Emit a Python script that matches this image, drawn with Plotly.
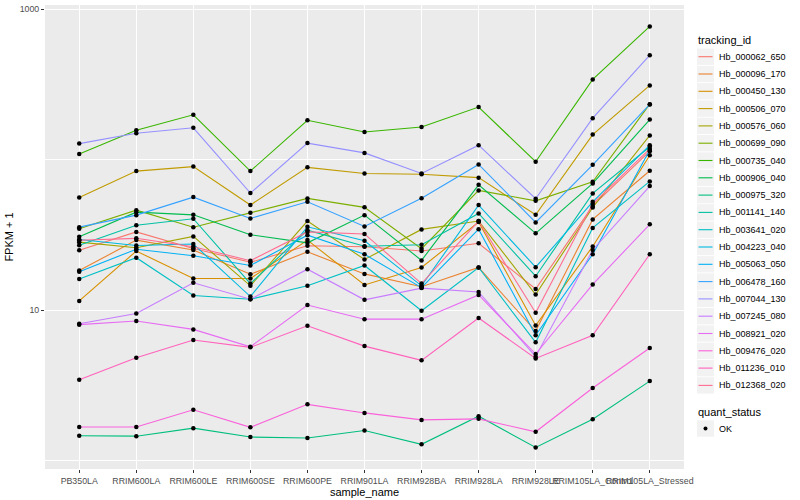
import plotly.graph_objects as go

samples = ["PB350LA", "RRIM600LA", "RRIM600LE", "RRIM600SE", "RRIM600PE", "RRIM901LA",
           "RRIM928BA", "RRIM928LA", "RRIM928LE", "RRIM105LA_Control", "RRIM105LA_Stressed"]

tracking_ids = ["Hb_000062_650", "Hb_000096_170", "Hb_000450_130", "Hb_000506_070",
                "Hb_000576_060", "Hb_000699_090", "Hb_000735_040", "Hb_000906_040",
                "Hb_000975_320", "Hb_001141_140", "Hb_003641_020", "Hb_004223_040",
                "Hb_005063_050", "Hb_006478_160", "Hb_007044_130", "Hb_007245_080",
                "Hb_008921_020", "Hb_009476_020", "Hb_011236_010", "Hb_012368_020"]

colors = ["#F8766D", "#EA8331", "#D89000", "#C09B00", "#A3A500", "#7CAE00", "#39B600",
          "#00BB4E", "#00BF7D", "#00C1A3", "#00BFC4", "#00BAE0", "#00B0F6", "#35A2FF",
          "#9590FF", "#C77CFF", "#E76BF3", "#FA62DB", "#FF62BC", "#FF6C91"]

quant_status = ["OK"]

# FPKM + 1 values per tracking id (in sample order)
hb_000062_650 = [25.0, 33.1, 25.7, 20.8, 26.8, 26.4, 24.7, 27.8, 13.8, 49.3, 114]
hb_000096_170 = [18.3, 29.2, 25.1, 17.3, 24.4, 17.4, 14.3, 19.2, 7.25, 40.1, 84.4]
hb_000450_130 = [11.5, 24.7, 16.2, 16.2, 29.2, 14.7, 19.2, 38.5, 7.9, 26.5, 107]
hb_000506_070 = [56, 84, 90, 50, 89, 81, 80, 76, 43, 147, 312]
hb_000576_060 = [28.3, 26.0, 30.9, 14.5, 39.1, 21.7, 34.4, 39.1, 12.7, 48.1, 145]
hb_000699_090 = [34.7, 46.2, 35.6, 44.4, 55.3, 48.2, 25.6, 62.5, 53.3, 71.3, 234]
hb_000735_040 = [109, 157, 199, 84, 183, 153, 165, 224, 97, 342, 770]
hb_000906_040 = [30.7, 44.8, 43.0, 31.7, 28.0, 42.8, 21.4, 68.1, 32.4, 69.6, 185]
hb_000975_320 = [1.46, 1.45, 1.64, 1.43, 1.41, 1.58, 1.28, 1.97, 1.22, 1.88, 3.37]
hb_001141_140 = [27.0, 36.7, 40.5, 15.0, 34.0, 26.6, 27.2, 43.9, 16.8, 59.7, 122]
hb_003641_020 = [16.1, 22.3, 12.5, 11.8, 14.5, 19.8, 9.9, 19.2, 6.1, 35.2, 71.7]
hb_004223_040 = [29.5, 26.9, 27.5, 12.3, 35.8, 28.9, 14.5, 49.9, 19.3, 52.5, 125]
hb_005063_050 = [18.0, 25.4, 23.0, 19.8, 31.5, 23.5, 14.1, 34.5, 6.8, 23.5, 116]
hb_006478_160 = [35.6, 42.8, 56.4, 40.7, 52.5, 36.0, 55.5, 93.0, 38.3, 92.5, 233]
hb_007044_130 = [128, 150, 163, 60, 129, 111, 81, 125, 55, 189, 496]
hb_007245_080 = [8.1, 9.5, 15.2, 11.8, 18.7, 11.7, 14.0, 13.2, 4.9, 25.1, 66.8]
hb_008921_020 = [8.0, 8.45, 7.44, 5.7, 10.8, 8.7, 8.7, 12.6, 5.1, 14.8, 37.2]
hb_009476_020 = [1.67, 1.67, 2.17, 1.66, 2.36, 2.07, 1.86, 1.89, 1.55, 3.03, 5.59]
hb_011236_010 = [3.44, 4.82, 6.32, 5.65, 7.86, 5.76, 4.63, 8.85, 4.77, 6.79, 23.5]
hb_012368_020 = [29.1, 30.0, 26.4, 21.3, 33.1, 32.1, 15.0, 39.1, 9.6, 50.9, 118]

series = [hb_000062_650, hb_000096_170, hb_000450_130, hb_000506_070, hb_000576_060,
          hb_000699_090, hb_000735_040, hb_000906_040, hb_000975_320, hb_001141_140,
          hb_003641_020, hb_004223_040, hb_005063_050, hb_006478_160, hb_007044_130,
          hb_007245_080, hb_008921_020, hb_009476_020, hb_011236_010, hb_012368_020]

FONT = "Liberation Sans, Arial, sans-serif"
W, H = 800, 500
ML, MR, MT, MB = 45, 116, 5, 31
PW, PH = W - ML - MR, H - MT - MB


def px(x):  # page pixel -> paper x
    return (x - ML) / PW


def py(y):  # page pixel -> paper y
    return (H - MB - y) / PH


fig = go.Figure()
for name, col, vals in zip(tracking_ids, colors, series):
    fig.add_trace(go.Scatter(x=samples, y=vals, mode="lines", name=name,
                             line=dict(color=col, width=1.1), showlegend=False))

all_x, all_y = [], []
for vals in series:
    all_x += samples
    all_y += vals
fig.add_trace(go.Scatter(x=all_x, y=all_y, mode="markers", name=quant_status[0],
                         marker=dict(color="black", size=4.5), showlegend=False))

# ggplot-style legend (guides) to the right of the panel
shapes, annotations = [], []
annotations.append(dict(text="tracking_id", xref="paper", yref="paper", x=px(696), y=py(40.5),
                        xanchor="left", yanchor="middle", showarrow=False,
                        font=dict(size=11, color="black")))
for i, (name, col) in enumerate(zip(tracking_ids, colors)):
    cy = 56.7 + 17.3 * i
    shapes.append(dict(type="rect", xref="paper", yref="paper", x0=px(697), x1=px(714),
                       y0=py(cy - 8.2), y1=py(cy + 8.2), fillcolor="#F2F2F2",
                       line=dict(width=0), layer="above"))
    shapes.append(dict(type="line", xref="paper", yref="paper", x0=px(698.5), x1=px(712.5),
                       y0=py(cy), y1=py(cy), line=dict(color=col, width=1.1), layer="above"))
    annotations.append(dict(text=name, xref="paper", yref="paper", x=px(717), y=py(cy),
                            xanchor="left", yanchor="middle", showarrow=False,
                            font=dict(size=9, color="black")))

annotations.append(dict(text="quant_status", xref="paper", yref="paper", x=px(696), y=py(411.5),
                        xanchor="left", yanchor="middle", showarrow=False,
                        font=dict(size=11, color="black")))
ok_y = 428.5
shapes.append(dict(type="rect", xref="paper", yref="paper", x0=px(697), x1=px(714),
                   y0=py(ok_y - 8.2), y1=py(ok_y + 8.2), fillcolor="#F2F2F2",
                   line=dict(width=0), layer="above"))
shapes.append(dict(type="circle", xref="paper", yref="paper", x0=px(703.5), x1=px(707.5),
                   y0=py(ok_y - 2), y1=py(ok_y + 2), fillcolor="black",
                   line=dict(width=0), layer="above"))
annotations.append(dict(text=quant_status[0], xref="paper", yref="paper", x=px(717), y=py(ok_y),
                        xanchor="left", yanchor="middle", showarrow=False,
                        font=dict(size=9, color="black")))

fig.update_layout(
    width=W, height=H,
    margin=dict(l=ML, r=MR, t=MT, b=MB),
    paper_bgcolor="white", plot_bgcolor="#EBEBEB",
    font=dict(family=FONT, size=10, color="black"),
    showlegend=False,
    shapes=shapes, annotations=annotations,
)

fig.update_xaxes(
    type="category", range=[-0.6, 10.6], showgrid=True, gridcolor="white", gridwidth=1,
    tickangle=0, ticks="outside", ticklen=3, tickcolor="#333333",
    tickfont=dict(size=8.8, color="#4D4D4D"),
    title=dict(text="sample_name", font=dict(size=11), standoff=3),
    zeroline=False, showline=False, automargin=False,
)
fig.update_yaxes(
    type="log", range=[-0.057, 3.029], tickvals=[10, 1000], ticktext=["10", "1000"],
    showgrid=True, gridcolor="white", gridwidth=1,
    ticks="outside", ticklen=3, tickcolor="#333333",
    tickfont=dict(size=8.8, color="#4D4D4D"),
    minor=dict(tickvals=[1, 100], showgrid=True, gridcolor="white", gridwidth=0.5, ticks=""),
    title=dict(text="FPKM + 1", font=dict(size=11), standoff=3),
    zeroline=False, showline=False, automargin=False,
)

fig.write_html("out.html", config={"displayModeBar": False},
               post_script="document.body.style.margin='0px';")
